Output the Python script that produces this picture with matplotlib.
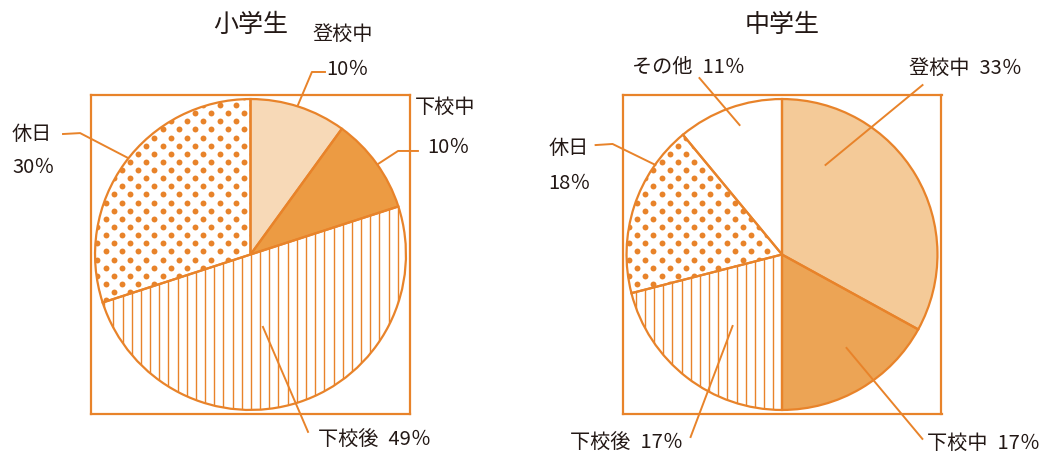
import numpy as np
import matplotlib
matplotlib.use("Agg")
import matplotlib.pyplot as plt

plt.rcParams['font.family'] = ['Noto Sans CJK JP', 'DejaVu Sans']

ORANGE = "#E8832A"
TXT = "#231815"
FS = 14.5

# data
titles = ["小学生", "中学生"]
es_labels = ["登校中", "下校中", "下校後", "休日"]
es_pct = [10, 10, 49, 30]
es_share = [10, 10, 50, 30]          # slice size as drawn
es_fill = ["#F7D9B7", "#EC9B43", "lines", "dots"]

jhs_labels = ["登校中", "下校中", "下校後", "休日", "その他"]
jhs_pct = [33, 17, 17, 18, 11]
jhs_share = [33, 17, 21, 18, 11]     # slice size as drawn
jhs_fill = ["#F4CA98", "#ECA455", "lines", "dots", "white"]

# label layout (data coords): leader points, text pos, name pos for two-line labels
es_layout = [
    dict(pts=[(0.305, 0.961), (0.395, 1.174), (0.479, 1.174)], txt=(0.49, 1.196), two=(0.40, 1.424), ha="left"),
    dict(pts=[(0.82, 0.582), (0.949, 0.666), (1.077, 0.666)], txt=(1.135, 0.698), two=(1.058, 0.955), ha="left"),
    dict(pts=[(0.080, -0.466), (0.37, -1.141)], txt=(0.434, -1.19), two=None, ha="left"),
    dict(pts=[(-0.788, 0.621), (-1.096, 0.781), (-1.206, 0.775)], txt=(-1.534, 0.563), two=(-1.534, 0.781), ha="left"),
]
jhs_layout = [
    dict(pts=[(0.28, 0.576), (0.904, 1.09)], txt=(1.18, 1.206), two=None, ha="center"),
    dict(pts=[(0.415, -0.601), (0.903, -1.186)], txt=(0.935, -1.21), two=None, ha="left"),
    dict(pts=[(-0.318, -0.46), (-0.588, -1.174)], txt=(-0.64, -1.21), two=None, ha="right"),
    dict(pts=[(-0.814, 0.576), (-1.09, 0.711), (-1.199, 0.704)], txt=(-1.502, 0.466), two=(-1.502, 0.691), ha="left"),
    dict(pts=[(-0.273, 0.833), (-0.531, 1.135)], txt=(-0.605, 1.212), two=None, ha="center"),
]

fig = plt.figure(figsize=(10.49, 4.56), dpi=100)
W, H = 1049, 456
ax_l = fig.add_axes([91 / W, 1 - 415 / H, 319 / W, 319 / H])
ax_r = fig.add_axes([622 / W, 1 - 415 / H, 320 / W, 319 / H])

LIM = 1.026


def texture(ax, wedge, kind):
    if kind == "lines":
        xs = np.arange(-1.0, 1.0001, 0.059)
        lc = ax.vlines(xs, -1.05, 1.05, colors=ORANGE, linewidth=1.0, zorder=2)
        lc.set_clip_path(wedge)
    elif kind == "dots":
        s = 0.074
        g = np.arange(-20, 21) * s
        gx, gy = np.meshgrid(g, g)
        a = np.deg2rad(45)
        px = gx * np.cos(a) - gy * np.sin(a) + 0.01
        py = gx * np.sin(a) + gy * np.cos(a) + 0.02
        m = px ** 2 + py ** 2 < 1.1
        sc = ax.scatter(px[m], py[m], s=18, color=ORANGE, linewidths=0, zorder=2)
        sc.set_clip_path(wedge)


def draw(ax, title, labels, pct, share, fills, layout):
    faces = [f if f.startswith("#") or f == "white" else "white" for f in fills]
    wedges, _ = ax.pie(share, colors=faces, startangle=90, counterclock=False,
                       radius=1.0, wedgeprops=dict(linewidth=0))
    for w, f in zip(wedges, fills):
        texture(ax, w, f)
    ax.pie(share, startangle=90, counterclock=False, radius=1.0,
           wedgeprops=dict(fill=False, edgecolor=ORANGE, linewidth=1.6, zorder=3))
    ax.set_frame_on(True)
    ax.set_xlim(-LIM, LIM)
    ax.set_ylim(-LIM, LIM)
    ax.set_aspect("equal")
    ax.set_xticks([])
    ax.set_yticks([])
    for sp in ax.spines.values():
        sp.set_visible(True)
        sp.set_color(ORANGE)
        sp.set_linewidth(1.6)
        sp.set_zorder(5)

    for lab, p, lay in zip(labels, pct, layout):
        xs = [q[0] for q in lay["pts"]]
        ys = [q[1] for q in lay["pts"]]
        ax.plot(xs, ys, color=ORANGE, linewidth=1.4, clip_on=False, zorder=4)
        if lay["two"] is None:
            ax.text(lay["txt"][0], lay["txt"][1], f"{lab}\u2002{p}％", ha=lay["ha"], va="center",
                    fontsize=FS, color=TXT, clip_on=False)
        else:
            ax.text(lay["two"][0], lay["two"][1], lab, ha=lay["ha"], va="center",
                    fontsize=FS, color=TXT, clip_on=False)
            ax.text(lay["txt"][0], lay["txt"][1], f"{p}％", ha=lay["ha"], va="center",
                    fontsize=FS, color=TXT, clip_on=False)
    ax.text(0.0, 1.48, title, ha="center", va="center", fontsize=18, color=TXT, clip_on=False)


draw(ax_l, titles[0], es_labels, es_pct, es_share, es_fill, es_layout)
draw(ax_r, titles[1], jhs_labels, jhs_pct, jhs_share, jhs_fill, jhs_layout)

fig.savefig("out.png", dpi=100, facecolor="white")
